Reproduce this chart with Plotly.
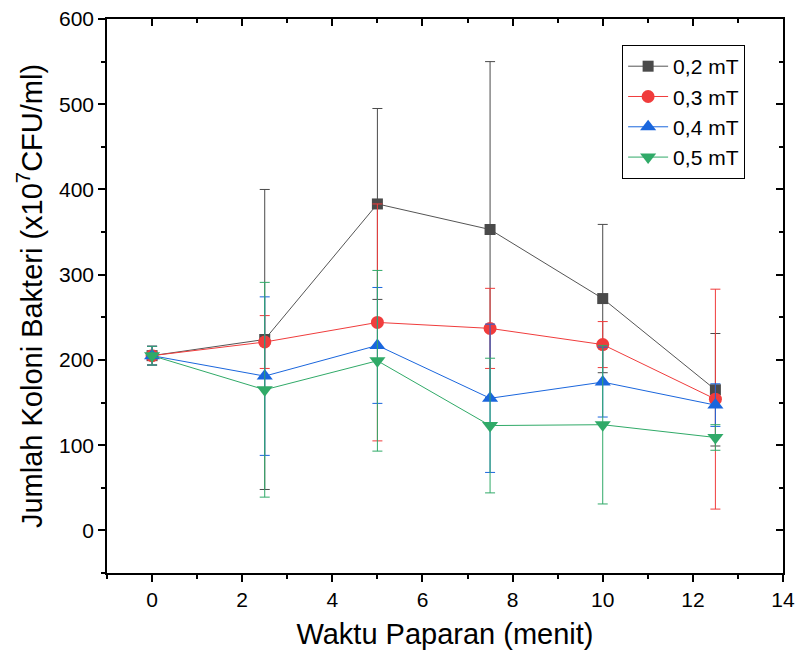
import plotly.graph_objects as go

waktu = [0, 2.5, 5, 7.5, 10, 12.5]
series_names = ["0,2 mT", "0,3 mT", "0,4 mT", "0,5 mT"]

y_02 = [205, 224, 383, 353, 272, 165]
e_02 = [11, 176, 112, 197, 87, 66]
y_03 = [205, 221, 244, 237, 218, 154]
e_03 = [11, 31, 139, 47, 27, 129]
y_04 = [205, 181, 217, 155, 174, 147]
e_04 = [11, 93, 68, 87, 41, 25]
y_05 = [205, 165, 199, 123, 124, 109]
e_05 = [11, 126, 106, 79, 93, 15]

x_ticks = [0, 2, 4, 6, 8, 10, 12, 14]
y_ticks = [0, 100, 200, 300, 400, 500, 600]

colors = ["#4a4a4a", "#f03c3c", "#1a66dd", "#30aa68"]
line_colors = ["#555555", "#f03c3c", "#1a66dd", "#30aa68"]
symbols = ["square", "circle", "triangle-up", "triangle-down"]
sizes = [11, 13, 14, 14]

fig = go.Figure()
for name, ys, es, c, lc, s, sz in zip(series_names, [y_02, y_03, y_04, y_05],
                                      [e_02, e_03, e_04, e_05], colors, line_colors, symbols, sizes):
    fig.add_trace(go.Scatter(
        x=waktu, y=ys, name=name, mode="lines+markers",
        line=dict(color=lc, width=1),
        marker=dict(symbol=s, size=sz, color=c, line=dict(width=0)),
        error_y=dict(type="data", array=es, visible=True, color=c, thickness=1, width=5),
    ))

# helper trace so the mirrored top/right axes (inward ticks) are drawn
fig.add_trace(go.Scatter(x=[], y=[], xaxis="x2", yaxis="y2", showlegend=False, hoverinfo="skip"))

font_family = "Liberation Sans, Arial, sans-serif"
axis_font = dict(family=font_family, size=21, color="black")
fig.update_layout(
    width=787, height=642,
    paper_bgcolor="white", plot_bgcolor="white",
    margin=dict(l=99, r=12, t=11, b=77, autoexpand=False),
    font=dict(family=font_family, color="black"),
    showlegend=True,
    legend=dict(x=0.762, y=0.953, xanchor="left", yanchor="top",
                bordercolor="black", borderwidth=1, bgcolor="white",
                font=dict(size=21), tracegroupgap=0, itemwidth=40),
    xaxis=dict(range=[-1, 14], tickvals=x_ticks, ticks="outside", ticklen=7, tickwidth=1.5,
               tickcolor="black", showline=True, linecolor="black", linewidth=1.5,
               showgrid=False, zeroline=False, tickfont=axis_font, automargin=False,
               ticklabeloverflow="allow",
               minor=dict(dtick=1, ticks="outside", ticklen=4, tickwidth=1.5, tickcolor="black", showgrid=False),
               title=dict(text="Waktu Paparan (menit)", font=dict(size=29), standoff=16)),
    yaxis=dict(range=[-50, 600], tickvals=y_ticks, ticks="outside", ticklen=7, tickwidth=1.5,
               tickcolor="black", showline=True, linecolor="black", linewidth=1.5,
               showgrid=False, zeroline=False, tickfont=axis_font, automargin=False,
               ticklabeloverflow="allow",
               minor=dict(dtick=50, ticks="outside", ticklen=4, tickwidth=1.5, tickcolor="black", showgrid=False),
               title=dict(text="Jumlah Koloni Bakteri (x10<sup>7</sup>CFU/ml)", font=dict(size=29), standoff=8)),
    xaxis2=dict(range=[-1, 14], overlaying="x", side="top", tickvals=x_ticks, ticks="inside",
                ticklen=7, tickwidth=1.5, tickcolor="black", showline=True, linecolor="black",
                linewidth=1.5, showticklabels=False, showgrid=False, zeroline=False, automargin=False,
                minor=dict(dtick=1, ticks="inside", ticklen=4, tickwidth=1.5, tickcolor="black", showgrid=False)),
    yaxis2=dict(range=[-50, 600], overlaying="y", side="right", tickvals=y_ticks, ticks="inside",
                ticklen=7, tickwidth=1.5, tickcolor="black", showline=True, linecolor="black",
                linewidth=1.5, showticklabels=False, showgrid=False, zeroline=False, automargin=False,
                minor=dict(dtick=50, ticks="inside", ticklen=4, tickwidth=1.5, tickcolor="black", showgrid=False)),
)

fig.write_html("out.html")
